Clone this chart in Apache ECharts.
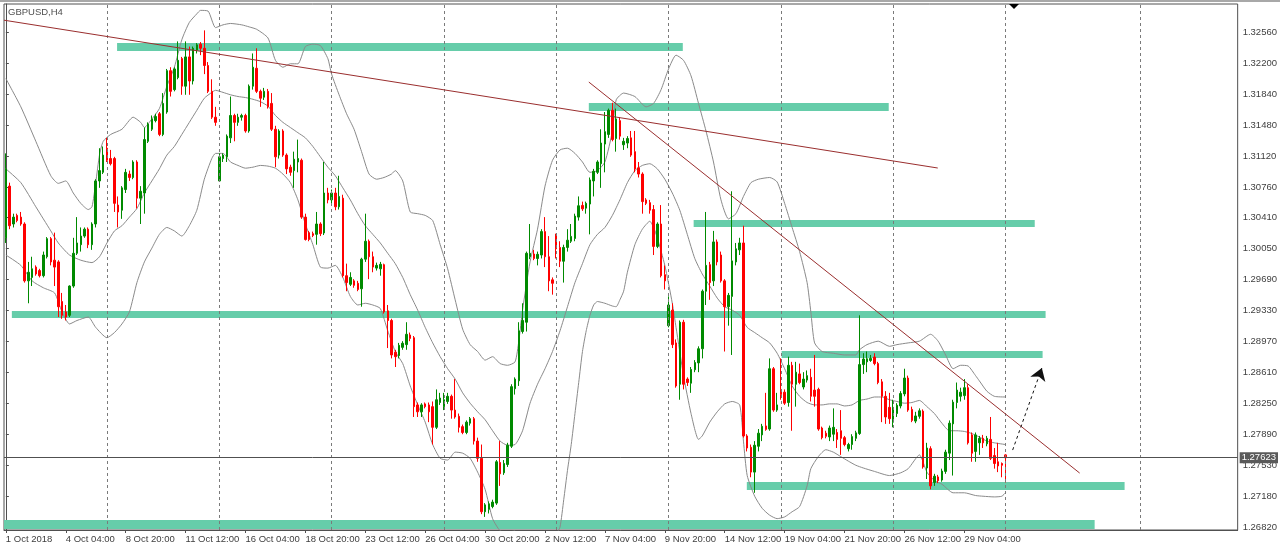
<!DOCTYPE html>
<html><head><meta charset="utf-8">
<script src="https://cdn.jsdelivr.net/npm/echarts@6/dist/echarts.min.js"></script>
<style>html,body{margin:0;padding:0;background:#fff;}#c{width:1280px;height:551px;}</style>
</head><body><div id="c"></div><script>
const symbolName = 'GBPUSD,H4';
const openP = [
1.30176,1.30776,1.30336,1.30436,1.30416,1.30336,1.29676,1.29716,1.29836,1.29796,
1.29736,1.29956,1.30166,1.29916,1.29896,1.29436,1.29316,1.29276,1.29616,1.29996,
1.30096,1.30196,1.30276,1.30096,1.30336,1.30836,1.30936,1.31216,1.31096,1.31096,
1.30556,1.30496,1.30736,1.30916,1.30876,1.31056,1.30636,1.30696,1.31296,1.31436,
1.31536,1.31616,1.31376,1.31636,1.32116,1.31896,1.32036,1.32256,1.31936,1.32276,
1.31996,1.32356,1.32424,1.32376,1.32176,1.31876,1.31576,1.30836,1.31096,1.31116,
1.31336,1.31596,1.31516,1.31576,1.31596,1.31416,1.31936,1.32144,1.31876,1.31808,
1.31876,1.31736,1.31436,1.31136,1.31416,1.31136,1.30996,1.30956,1.31056,1.31076,
1.30416,1.30236,1.30224,1.30216,1.30336,1.30232,1.30696,1.30616,1.30696,1.30536,
1.30636,1.29736,1.29636,1.29676,1.29648,1.29584,1.29928,1.30136,1.29956,1.29824,
1.29816,1.29864,1.29328,1.29216,1.28848,1.28808,1.28904,1.28936,1.29048,1.29016,
1.28236,1.28156,1.28248,1.28236,1.28216,1.27976,1.28264,1.28216,1.28276,1.28336,
1.28176,1.28104,1.27984,1.27916,1.28024,1.28076,1.27816,1.27616,1.26996,1.27024,
1.27056,1.27096,1.27568,1.27448,1.27544,1.27756,1.28424,1.28516,1.29088,1.29196,
1.29956,1.29988,1.29936,1.29976,1.30248,1.29956,1.29688,1.30208,1.30064,1.29904,
1.30064,1.30136,1.30168,1.30416,1.30552,1.30520,1.30568,1.30836,1.30936,1.31036,
1.31264,1.31376,1.31656,1.31328,1.31536,1.31256,1.31276,1.31336,1.31176,1.30988,
1.30916,1.30616,1.30584,1.30504,1.30076,1.30336,1.29748,1.29156,1.29336,1.28956,
1.28476,1.29196,1.28536,1.28488,1.28644,1.28724,1.28888,1.29556,1.29864,1.29676,
1.30128,1.29976,1.29676,1.29376,1.29496,1.29896,1.30036,1.30116,1.27876,1.27744,
1.27456,1.27756,1.27888,1.27992,1.27956,1.28656,1.28176,1.28416,1.28384,1.28264,
1.28696,1.28476,1.28596,1.28444,1.28524,1.28556,1.28408,1.28416,1.27968,1.27908,
1.27864,1.27896,1.27916,1.27936,1.27856,1.27728,1.27776,1.27848,1.27904,1.28704,
1.28736,1.28752,1.28792,1.28716,1.28504,1.28336,1.28208,1.28036,1.28136,1.28224,
1.28364,1.28548,1.28184,1.28048,1.28104,1.28164,1.27504,1.27728,1.27336,1.27400,
1.27364,1.27464,1.27676,1.28016,1.28264,1.28336,1.28344,1.28436,1.27888,1.27696,
1.27796,1.27848,1.27784,1.27836,1.27648,1.27576,1.27556,1.27656];
const highP = [
1.31156,1.30816,1.30456,1.30456,1.30476,1.30356,1.29896,1.29956,1.29856,1.29816,
1.30016,1.30184,1.30184,1.30236,1.29916,1.29536,1.29396,1.29624,1.30176,1.30416,
1.30296,1.30296,1.30296,1.30356,1.30856,1.31216,1.31236,1.31336,1.31196,1.31116,
1.30656,1.30776,1.30976,1.30956,1.31076,1.31076,1.30776,1.31456,1.31516,1.31596,
1.31616,1.31636,1.31856,1.32136,1.32156,1.32156,1.32456,1.32276,1.32456,1.32396,
1.32396,1.32436,1.32448,1.32584,1.32216,1.32016,1.31696,1.31156,1.31156,1.31376,
1.31816,1.31616,1.31616,1.31616,1.31616,1.31956,1.32316,1.32376,1.31896,1.31916,
1.31904,1.31856,1.31476,1.31436,1.31436,1.31156,1.31024,1.31176,1.31316,1.31096,
1.30456,1.30256,1.30248,1.30476,1.30356,1.31056,1.30756,1.30736,1.30756,1.30896,
1.30676,1.29876,1.29776,1.29696,1.29676,1.29944,1.30456,1.30156,1.30016,1.29888,
1.29896,1.29876,1.29396,1.29236,1.28876,1.28956,1.28976,1.29196,1.29076,1.29036,
1.28264,1.28256,1.28264,1.28264,1.28276,1.28416,1.28376,1.28376,1.28376,1.28356,
1.28536,1.28136,1.28008,1.28056,1.28096,1.28096,1.27856,1.27776,1.27096,1.27116,
1.27136,1.27596,1.27816,1.27596,1.27796,1.28476,1.28556,1.29196,1.29416,1.30016,
1.30336,1.30036,1.30016,1.30276,1.30416,1.30196,1.29716,1.30224,1.30136,1.30096,
1.30276,1.30336,1.30456,1.30656,1.30596,1.30596,1.30876,1.30976,1.31076,1.31436,
1.31636,1.31676,1.31744,1.31676,1.31576,1.31336,1.31356,1.31416,1.31416,1.31056,
1.30936,1.30636,1.30616,1.30556,1.30356,1.30556,1.29856,1.29496,1.29416,1.28996,
1.29216,1.29224,1.28556,1.28676,1.28756,1.28916,1.29576,1.30476,1.29896,1.30256,
1.30156,1.30016,1.29696,1.29536,1.30716,1.30116,1.30176,1.30316,1.27896,1.27776,
1.27816,1.27956,1.28016,1.28376,1.28776,1.28676,1.28376,1.28776,1.28416,1.28796,
1.28736,1.28736,1.28716,1.28616,1.28636,1.28656,1.28816,1.28436,1.27984,1.27936,
1.27996,1.28196,1.27956,1.28176,1.27876,1.27796,1.27896,1.27936,1.29276,1.28836,
1.28856,1.28816,1.28836,1.28736,1.28536,1.28396,1.28376,1.28296,1.28256,1.28396,
1.28656,1.28576,1.28216,1.28156,1.28196,1.28184,1.27796,1.27756,1.27436,1.27424,
1.27496,1.27716,1.28056,1.28296,1.28496,1.28436,1.28536,1.28476,1.27916,1.27916,
1.27876,1.27888,1.27876,1.28096,1.27736,1.27796,1.27568,1.27664];
const lowP = [
1.30116,1.30276,1.30296,1.30356,1.30316,1.29656,1.29416,1.29616,1.29736,1.29716,
1.29716,1.29936,1.29856,1.29616,1.29256,1.29236,1.29216,1.29256,1.29596,1.29976,
1.30016,1.30176,1.30056,1.30036,1.30296,1.30756,1.30916,1.31056,1.31016,1.30476,
1.30296,1.30396,1.30696,1.30836,1.30856,1.30516,1.30336,1.30456,1.31276,1.31416,
1.31516,1.31356,1.31356,1.31616,1.31816,1.31876,1.32016,1.31836,1.31836,1.31836,
1.31956,1.32316,1.32296,1.32076,1.31856,1.31556,1.31476,1.30824,1.31056,1.31056,
1.31276,1.31296,1.31476,1.31536,1.31396,1.31396,1.31896,1.31856,1.31696,1.31776,
1.31676,1.31416,1.30996,1.31096,1.31116,1.30916,1.30896,1.30756,1.30936,1.30396,
1.30144,1.30136,1.30184,1.30096,1.30196,1.30208,1.30576,1.30576,1.30496,1.30504,
1.29716,1.29556,1.29616,1.29596,1.29556,1.29376,1.29896,1.29696,1.29776,1.29796,
1.29736,1.29296,1.28896,1.28776,1.28676,1.28776,1.28876,1.28876,1.28976,1.28096,
1.28096,1.28096,1.28196,1.28036,1.27776,1.27956,1.28236,1.28176,1.28248,1.28076,
1.28076,1.27916,1.27896,1.27896,1.27996,1.27776,1.27576,1.26968,1.26936,1.26976,
1.27036,1.27076,1.27296,1.27424,1.27516,1.27736,1.28356,1.28456,1.29064,1.29088,
1.29928,1.29916,1.29856,1.29936,1.29836,1.29556,1.29516,1.29936,1.29836,1.29656,
1.30016,1.30116,1.30136,1.30376,1.30488,1.30456,1.30216,1.30656,1.30916,1.30756,
1.30936,1.31336,1.31296,1.31176,1.31316,1.31196,1.31216,1.31116,1.30936,1.30876,
1.30456,1.30556,1.30456,1.29976,1.30056,1.29716,1.29576,1.29136,1.28896,1.28436,
1.28296,1.28416,1.28456,1.28376,1.28616,1.28616,1.28776,1.29396,1.29456,1.29616,
1.29856,1.29656,1.28856,1.29156,1.28816,1.29856,1.29976,1.27856,1.27696,1.27396,
1.27216,1.27696,1.27816,1.27936,1.27936,1.28156,1.28156,1.28296,1.28236,1.28216,
1.27936,1.28216,1.28476,1.28416,1.28496,1.28276,1.28216,1.27936,1.27836,1.27848,
1.27816,1.27816,1.27736,1.27656,1.27756,1.27696,1.27716,1.27816,1.27888,1.28596,
1.28616,1.28736,1.28696,1.28476,1.28036,1.28016,1.28016,1.27976,1.28096,1.28196,
1.28336,1.28156,1.28036,1.28024,1.28076,1.27496,1.27376,1.27256,1.27296,1.27328,
1.27344,1.27436,1.27596,1.27416,1.28196,1.28276,1.28296,1.27776,1.27576,1.27576,
1.27656,1.27736,1.27756,1.27596,1.27496,1.27456,1.27396,1.27336];
const closeP = [
1.30976,1.30316,1.30416,1.30376,1.30336,1.29676,1.29776,1.29816,1.29756,1.29736,
1.29976,1.30166,1.29896,1.29836,1.29376,1.29276,1.29256,1.29616,1.29996,1.30116,
1.30196,1.30276,1.30096,1.30336,1.30836,1.30956,1.31136,1.31076,1.31036,1.30576,
1.30476,1.30756,1.30936,1.30876,1.31056,1.30636,1.30716,1.31316,1.31496,1.31556,
1.31584,1.31376,1.31736,1.32116,1.31876,1.32136,1.32236,1.31936,1.32276,1.31996,
1.32376,1.32416,1.32376,1.32176,1.31876,1.31576,1.31516,1.31116,1.31136,1.31356,
1.31596,1.31516,1.31576,1.31596,1.31416,1.31936,1.32156,1.31876,1.31796,1.31876,
1.31696,1.31436,1.31116,1.31416,1.31136,1.30976,1.30936,1.31088,1.31096,1.30416,
1.30156,1.30156,1.30204,1.30336,1.30224,1.30696,1.30616,1.30696,1.30536,1.30656,
1.29736,1.29656,1.29716,1.29624,1.29576,1.29928,1.30136,1.29956,1.29836,1.29856,
1.29868,1.29316,1.29216,1.28816,1.28796,1.28928,1.28952,1.29056,1.29008,1.28216,
1.28156,1.28236,1.28216,1.28156,1.27976,1.28296,1.28316,1.28296,1.28336,1.28176,
1.28096,1.27976,1.27916,1.28036,1.28076,1.27816,1.27616,1.26996,1.27076,1.27088,
1.27108,1.27576,1.27436,1.27556,1.27768,1.28448,1.28536,1.29096,1.29216,1.29996,
1.29996,1.29936,1.29984,1.30248,1.29956,1.29676,1.29648,1.30048,1.29904,1.30064,
1.30148,1.30192,1.30428,1.30548,1.30512,1.30576,1.30848,1.30948,1.31056,1.31276,
1.31408,1.31656,1.31316,1.31556,1.31356,1.31296,1.31328,1.31136,1.30976,1.30916,
1.30596,1.30576,1.30496,1.30076,1.30336,1.29736,1.29676,1.29396,1.28936,1.28456,
1.29196,1.28476,1.28496,1.28648,1.28728,1.28888,1.29556,1.29856,1.29656,1.30128,
1.29896,1.29676,1.29376,1.29508,1.29908,1.30048,1.30116,1.27876,1.27736,1.27456,
1.27768,1.27908,1.27988,1.27952,1.28656,1.28176,1.28236,1.28356,1.28256,1.28696,
1.28476,1.28616,1.28496,1.28536,1.28576,1.28336,1.28336,1.27956,1.27856,1.27872,
1.27968,1.27976,1.27836,1.27848,1.27776,1.27776,1.27868,1.27912,1.28704,1.28768,
1.28772,1.28776,1.28716,1.28496,1.28336,1.28096,1.28076,1.28208,1.28232,1.28368,
1.28548,1.28176,1.28056,1.28108,1.28168,1.27516,1.27736,1.27296,1.27408,1.27356,
1.27468,1.27688,1.28024,1.28268,1.28408,1.28384,1.28436,1.27796,1.27676,1.27888,
1.27848,1.27796,1.27848,1.27616,1.27556,1.27528,1.27536,1.27623];
const lastPrice = 1.27623;

const xTickBars = [0,16,32,48,64,80,96,112,128,144,160,176,192,208,224,240,256];
const xTickLabels = ['1 Oct 2018','4 Oct 04:00','8 Oct 20:00','11 Oct 12:00','16 Oct 04:00','18 Oct 20:00','23 Oct 12:00','26 Oct 04:00','30 Oct 20:00','2 Nov 12:00','7 Nov 04:00','9 Nov 20:00','14 Nov 12:00','19 Nov 04:00','21 Nov 20:00','26 Nov 12:00','29 Nov 04:00'];
const yTicks = [1.26820,1.27180,1.27530,1.27890,1.28250,1.28610,1.28970,1.29330,1.29690,1.30050,1.30410,1.30760,1.31120,1.31480,1.31840,1.32200,1.32560];
const weekGridBars = [27,57,87,117,147,177,207,237,267,303];

const bbUpper = [[0,1.32024],[4,1.31696],[8,1.31296],[12,1.30896],[14,1.30808],[16,1.30836],[18,1.30696],[20,1.30576],[22,1.30504],[23,1.30536],[24,1.30816],[25,1.31136],[26,1.31296],[28,1.31376],[31,1.31436],[34,1.31576],[36,1.31516],[37,1.31456],[39,1.31556],[41,1.31676],[43,1.31936],[45,1.32156],[47,1.32476],[49,1.32676],[51,1.32776],[52,1.32816],[54,1.32808],[56,1.32616],[58,1.32648],[60,1.32664],[63,1.32648],[65,1.32624],[67,1.32596],[70,1.32496],[72,1.32236],[74,1.32156],[76,1.32196],[78,1.32196],[80,1.32396],[82,1.32424],[84,1.32408],[86,1.32256],[87,1.32076],[89,1.31836],[91,1.31616],[93,1.31436],[95,1.31176],[97,1.30916],[99,1.30856],[101,1.30876],[103,1.30916],[104,1.30956],[106,1.30836],[108,1.30476],[110,1.30456],[112,1.30436],[114,1.30376],[116,1.30096],[118,1.29816],[120,1.29456],[122,1.29116],[124,1.28936],[126,1.28856],[128,1.28756],[130,1.28796],[132,1.28716],[134,1.28696],[136,1.28736],[137,1.28976],[138,1.29336],[140,1.29896],[142,1.30276],[144,1.30776],[146,1.31076],[148,1.31196],[150,1.31216],[152,1.31156],[154,1.31056],[156,1.30936],[158,1.30956],[160,1.31056],[162,1.31416],[163,1.31776],[165,1.31856],[168,1.31816],[171,1.31696],[173,1.31736],[175,1.31896],[177,1.32136],[179,1.32296],[181,1.32236],[183,1.32056],[185,1.31736],[187,1.31416],[189,1.31056],[191,1.30616],[193,1.30396],[195,1.30456],[197,1.30656],[199,1.30816],[201,1.30856],[204,1.30876],[206,1.30824],[208,1.30576],[210,1.30296],[212,1.30016],[214,1.29656],[215,1.29316],[216,1.28956],[218,1.28856],[221,1.28836],[224,1.28816],[227,1.28816],[228,1.28876],[230,1.28936],[233,1.28976],[236,1.28916],[238,1.28936],[241,1.28956],[244,1.28976],[247,1.29056],[249,1.28976],[251,1.28816],[253,1.28656],[255,1.28696],[257,1.28688],[259,1.28576],[260,1.28516],[262,1.28396],[264,1.28336],[267,1.28328]];
const bbMiddle = [[0,1.30976],[4,1.30816],[8,1.30536],[12,1.30256],[14,1.30116],[17,1.29976],[20,1.29916],[23,1.29888],[25,1.29956],[27,1.30116],[29,1.30256],[31,1.30316],[33,1.30416],[35,1.30516],[37,1.30696],[39,1.30836],[41,1.30976],[43,1.31136],[45,1.31236],[47,1.31376],[49,1.31516],[51,1.31656],[53,1.31796],[55,1.31864],[56,1.31888],[58,1.31864],[60,1.31836],[62,1.31816],[64,1.31804],[66,1.31784],[68,1.31756],[70,1.31704],[72,1.31596],[74,1.31516],[76,1.31456],[78,1.31396],[80,1.31336],[82,1.31236],[84,1.31116],[86,1.30996],[88,1.30896],[90,1.30756],[92,1.30616],[94,1.30456],[96,1.30316],[98,1.30216],[100,1.30116],[102,1.29996],[104,1.29876],[106,1.29716],[108,1.29516],[110,1.29336],[112,1.29136],[114,1.28956],[116,1.28796],[118,1.28656],[120,1.28536],[122,1.28376],[124,1.28256],[126,1.28156],[128,1.28064],[130,1.27936],[132,1.27816],[134,1.27768],[136,1.27776],[138,1.27936],[140,1.28256],[142,1.28476],[144,1.28656],[146,1.28856],[148,1.29096],[150,1.29376],[152,1.29656],[154,1.29876],[156,1.30096],[158,1.30216],[160,1.30296],[162,1.30436],[164,1.30616],[166,1.30816],[168,1.30956],[170,1.31016],[172,1.31036],[174,1.30976],[176,1.30856],[178,1.30696],[180,1.30496],[182,1.30216],[184,1.29936],[186,1.29756],[188,1.29616],[190,1.29476],[192,1.29376],[194,1.29336],[196,1.29276],[198,1.29136],[200,1.29076],[202,1.29016],[204,1.28956],[206,1.28836],[208,1.28656],[210,1.28456],[212,1.28336],[214,1.28264],[216,1.28236],[218,1.28236],[220,1.28248],[222,1.28248],[224,1.28224],[226,1.28236],[228,1.28288],[230,1.28304],[232,1.28328],[234,1.28328],[236,1.28296],[238,1.28276],[240,1.28256],[242,1.28264],[244,1.28288],[246,1.28216],[248,1.28136],[250,1.28024],[252,1.27936],[254,1.27936],[256,1.27928],[258,1.27904],[260,1.27864],[262,1.27816],[264,1.27796],[267,1.27776]];
const bbLower = [[0,1.29976],[4,1.29856],[7,1.29676],[10,1.29596],[13,1.29536],[15,1.29316],[17,1.29176],[19,1.29216],[22,1.29256],[24,1.29136],[27,1.29016],[29,1.29076],[31,1.29176],[33,1.29316],[35,1.29656],[37,1.29896],[39,1.30056],[41,1.30216],[43,1.30296],[45,1.30256],[47,1.30196],[49,1.30316],[51,1.30496],[53,1.30856],[55,1.31096],[56,1.31156],[58,1.31156],[60,1.31056],[62,1.31016],[64,1.30984],[66,1.30996],[68,1.31016],[70,1.31008],[72,1.30984],[74,1.30916],[76,1.30816],[78,1.30616],[80,1.30336],[82,1.30096],[84,1.29836],[86,1.29824],[88,1.29856],[90,1.29716],[92,1.29496],[94,1.29396],[96,1.29416],[98,1.29396],[100,1.29356],[102,1.29096],[104,1.28856],[106,1.28716],[108,1.28456],[110,1.28236],[112,1.28036],[114,1.27776],[116,1.27616],[118,1.27596],[120,1.27688],[122,1.27676],[124,1.27616],[126,1.27456],[128,1.27256],[130,1.26916],[132,1.26776],[134,1.26756],[136,1.26776],[138,1.26536],[140,1.26616],[142,1.26596],[144,1.26536],[146,1.26636],[147,1.26736],[148,1.26816],[149,1.27136],[150,1.27476],[151,1.27776],[152,1.28136],[153,1.28496],[154,1.28856],[155,1.29096],[156,1.29276],[157,1.29396],[158,1.29436],[160,1.29416],[162,1.29384],[163,1.29376],[164,1.29456],[165,1.29556],[166,1.29776],[168,1.30096],[170,1.30276],[172,1.30368],[173,1.30296],[174,1.30176],[176,1.29856],[178,1.29416],[179,1.29136],[181,1.28576],[183,1.28136],[185,1.27836],[186,1.27876],[188,1.28036],[190,1.28156],[192,1.28248],[194,1.28276],[196,1.28236],[197,1.27816],[198,1.27416],[200,1.27176],[202,1.27036],[204,1.26956],[206,1.26916],[208,1.26936],[210,1.26996],[212,1.27056],[214,1.27296],[215,1.27496],[217,1.27636],[219,1.27716],[221,1.27688],[223,1.27636],[225,1.27584],[227,1.27536],[229,1.27504],[232,1.27464],[236,1.27416],[239,1.27448],[241,1.27496],[244,1.27656],[246,1.27456],[248,1.27356],[250,1.27316],[253,1.27216],[256,1.27216],[259,1.27184],[261,1.27176],[264,1.27168],[266,1.27176],[267,1.27216]];

// horizontal zones: [fromBar, toBar, lowPrice, highPrice]
const zones = [
 [29.7, 180.8, 1.32344, 1.32437],
 [155.7, 235.8, 1.31648, 1.31741],
 [183.7, 274.8, 1.30301, 1.30382],
 [1.6, 277.7, 1.29245, 1.29326],
 [207.2, 276.9, 1.28780, 1.28862],
 [197.9, 298.8, 1.27248, 1.27341],
 [-0.5, 290.8, 1.26795, 1.26900]
];
const trendLines = [
 [[-0.5, 1.32702], [248.9, 1.30986]],
 [[155.7, 1.31984], [286.8, 1.27445]]
];
const arrowLine = [[268.9, 1.27712], [276.7, 1.28664]];

const FONT = "'Liberation Sans', Arial, sans-serif";
const candleData = openP.map((o, i) => [i, o, closeP[i], lowP[i], highP[i]]);

const chart = echarts.init(document.getElementById('c'), null, {renderer: 'canvas'});
chart.setOption({
  animation: false,
  backgroundColor: '#ffffff',
  title: {text: symbolName, left: 8, top: 7, padding: 0,
    textStyle: {fontSize: 9.5, color: '#505050', fontWeight: 'normal', fontFamily: FONT}},
  grid: {left: 4, right: 42, top: 4, bottom: 21, show: true, borderColor: '#505050', borderWidth: 1, backgroundColor: '#fff'},
  xAxis: {
    type: 'value', min: -0.5, max: 329,
    axisLine: {show: true, lineStyle: {color: '#505050'}},
    splitLine: {show: false},
    axisTick: {show: true, length: 3, customValues: xTickBars, lineStyle: {color: '#505050'}},
    axisLabel: {show: true, customValues: xTickBars, align: 'left', margin: 4,
      fontSize: 9.5, color: '#404040', fontFamily: FONT,
      formatter: v => xTickLabels[xTickBars.indexOf(Math.round(v))] || ''}
  },
  yAxis: {
    type: 'value', position: 'right', min: 1.26784, max: 1.32890, scale: true,
    axisLine: {show: true, lineStyle: {color: '#505050'}},
    splitLine: {show: false},
    axisTick: {show: true, length: 3, customValues: yTicks, lineStyle: {color: '#505050'}},
    axisLabel: {show: true, customValues: yTicks, margin: 5, fontSize: 9.5, color: '#404040', fontFamily: FONT,
      formatter: v => v.toFixed(5)}
  },
  graphic: [
    {type: 'line', shape: {x1: 0, y1: 1, x2: 1280, y2: 1}, style: {stroke: '#a8a8a8', lineWidth: 2}, silent: true},
    {type: 'polygon', shape: {points: [[1009, 4], [1019, 4], [1014, 9]]}, style: {fill: '#000'}, silent: true, z: 100}
  ],
  series: [
    {
      type: 'custom', name: 'zones', data: zones, z: 1, silent: true,
      encode: {x: [0, 1], y: [2, 3]},
      renderItem: (params, api) => {
        const p1 = api.coord([api.value(0), api.value(3)]);
        const p2 = api.coord([api.value(1), api.value(2)]);
        return {type: 'rect', shape: {x: p1[0], y: p1[1], width: p2[0] - p1[0], height: p2[1] - p1[1]},
          style: {fill: '#66cdaa'}};
      }
    },
    {
      type: 'line', name: 'grid', data: [], z: 2, silent: true,
      markLine: {silent: true, symbol: 'none', animation: false, label: {show: false},
        lineStyle: {color: '#7a7a7a', type: [3, 3], width: 1},
        data: weekGridBars.map(b => ({xAxis: b}))}
    },
    {type: 'line', name: 'bbUpper', data: bbUpper, z: 3, showSymbol: false, symbol: 'none', smooth: 0.2, silent: true,
      lineStyle: {color: '#8a8a8a', width: 1}},
    {type: 'line', name: 'bbMiddle', data: bbMiddle, z: 3, showSymbol: false, symbol: 'none', smooth: 0.2, silent: true,
      lineStyle: {color: '#8a8a8a', width: 1}},
    {type: 'line', name: 'bbLower', data: bbLower, z: 3, showSymbol: false, symbol: 'none', smooth: 0.2, silent: true,
      lineStyle: {color: '#8a8a8a', width: 1}},
    {
      type: 'candlestick', name: 'GBPUSD', data: candleData, z: 4,
      dimensions: ['bar', 'open', 'close', 'low', 'high'],
      encode: {x: 'bar', y: ['open', 'close', 'low', 'high']},
      barWidth: 2,
      itemStyle: {color: '#008a00', color0: '#ff0000', borderColor: '#008a00', borderColor0: '#ff0000', borderWidth: 1}
    },
    {
      type: 'line', name: 'price', data: [], z: 5, silent: true,
      markLine: {silent: true, symbol: 'none', animation: false, precision: 5,
        lineStyle: {color: '#505050', type: 'solid', width: 1},
        label: {show: true, position: 'end', distance: 2, formatter: lastPrice.toFixed(5),
          backgroundColor: '#5a5a5a', color: '#ffffff', fontSize: 9.5, fontFamily: FONT, padding: [1, 2, 0, 2]},
        data: [{yAxis: lastPrice}]}
    },
    ...trendLines.map((seg, k) => ({
      type: 'line', name: 'trend' + k, data: seg, z: 5, symbol: 'none', silent: true,
      lineStyle: {color: '#9a2e2e', width: 1}
    })),
    {
      type: 'lines', coordinateSystem: 'cartesian2d', z: 6, silent: true,
      data: [{coords: arrowLine}],
      symbol: ['none', 'arrow'], symbolSize: [8, 12],
      lineStyle: {color: '#111', type: [3, 3], width: 1, opacity: 1}
    }
  ]
});
</script></body></html>
